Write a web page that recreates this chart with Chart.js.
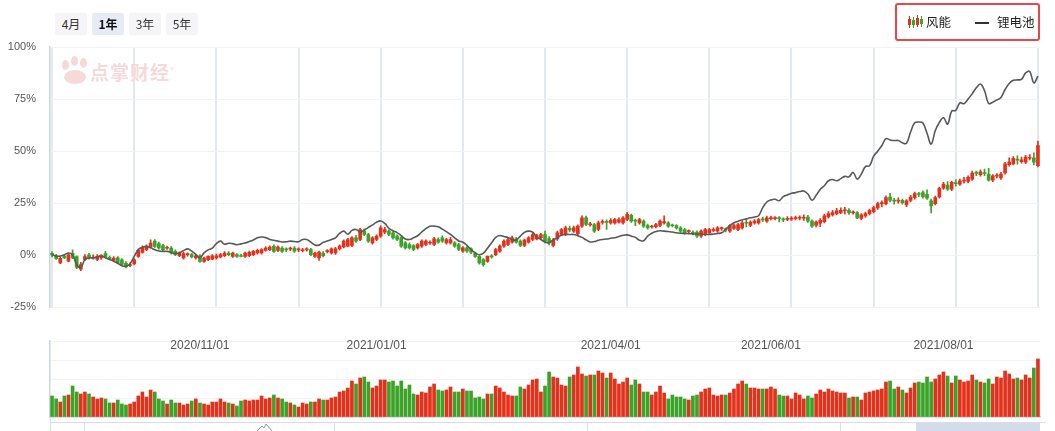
<!DOCTYPE html>
<html>
<head>
<meta charset="utf-8">
<title>风能 / 锂电池</title>
<script src="https://cdn.jsdelivr.net/npm/chart.js@4.4.1/dist/chart.umd.min.js"></script>
<style>
  body { margin: 0; background: #fff; font-family: "Noto Sans CJK SC", "Liberation Sans", sans-serif; }
  #wrap { position: relative; width: 1055px; height: 431px; overflow: hidden; }
  canvas { position: absolute; left: 0; }
  #main { top: 0; }
  #vol { top: 330px; }
  .btn { position: absolute; top: 13px; width: 32px; height: 22px; line-height: 22px; text-align: center; font-size: 12px; color: #333; background: #f5f5f7; border-radius: 2px; }
  .btn.on { background: #e6ebf5; font-weight: bold; color: #111; }
  #legendBox { position: absolute; left: 895px; top: 3px; width: 141px; height: 34px; border: 2.5px solid #e8464b; border-radius: 3px; }
  .lg { position: absolute; top: 13px; font-size: 12.5px; color: #222; line-height: 18px; }
  .mini { position: absolute; }
  .nav { position: absolute; background: #dedede; }
  #mark { position: absolute; left: 90px; top: 58px; font-size: 19px; font-weight: bold; color: #f6d9d9; letter-spacing: 1px; }
  .paw { position: absolute; background: #f6d9d9; border-radius: 50%; }
</style>
</head>
<body>
<div id="wrap">
  <canvas id="main" width="1055" height="328"></canvas>
  <canvas id="vol" width="1055" height="101"></canvas>

  <div class="btn" style="left:55px">4月</div>
  <div class="btn on" style="left:92px">1年</div>
  <div class="btn" style="left:129px">3年</div>
  <div class="btn" style="left:166px">5年</div>

  <!-- watermark -->
  <div class="paw" style="left:62px;top:60px;width:7px;height:10px"></div>
  <div class="paw" style="left:71px;top:56px;width:7px;height:10px"></div>
  <div class="paw" style="left:80px;top:58px;width:7px;height:10px"></div>
  <div class="paw" style="left:64px;top:70px;width:22px;height:14px"></div>
  <div id="mark">点掌财经<sup style="font-size:8px;font-weight:normal">®</sup></div>

  <!-- legend -->
  <div id="legendBox"></div>
  <div class="mini" style="left:909px;top:16px;width:1px;height:12px;background:#e3321c"></div>
  <div class="mini" style="left:908px;top:19px;width:3px;height:6px;background:#e3321c"></div>
  <div class="mini" style="left:913px;top:17px;width:1px;height:11px;background:#3ba328"></div>
  <div class="mini" style="left:912px;top:20px;width:3px;height:5px;background:#3ba328"></div>
  <div class="mini" style="left:917px;top:15px;width:1px;height:12px;background:#e3321c"></div>
  <div class="mini" style="left:916px;top:18px;width:3px;height:7px;background:#e3321c"></div>
  <div class="mini" style="left:921px;top:16px;width:1px;height:11px;background:#3ba328"></div>
  <div class="mini" style="left:920px;top:19px;width:3px;height:5px;background:#3ba328"></div>
  <div class="lg" style="left:926px">风能</div>
  <div class="mini" style="left:975px;top:22px;width:14px;height:2px;background:#333"></div>
  <div class="lg" style="left:997px">锂电池</div>

  <!-- navigator strip -->
  <div class="nav" style="left:50px;top:422px;width:995px;height:1px"></div>
  <div class="nav" style="left:50px;top:417px;width:1px;height:14px"></div>
  <div class="nav" style="left:84px;top:422px;width:1px;height:9px"></div>
  <div class="nav" style="left:334px;top:422px;width:1px;height:9px"></div>
  <div class="nav" style="left:587px;top:422px;width:1px;height:9px"></div>
  <div class="nav" style="left:840px;top:422px;width:1px;height:9px"></div>
  <div class="nav" style="left:916px;top:423px;width:124px;height:8px;background:#d3dcec"></div>
  <svg style="position:absolute;left:0;top:0" width="1055" height="431">
    <polyline points="257,431 262,426 264,428 266,424 272,431" fill="none" stroke="#8096bd" stroke-width="1"/>
  </svg>
</div>

<script>
// 风能 candles (percent change), one entry per trading day
const candleOpen = [
  1.0, -0.2, -3.6, -0.4, -2.8, 1.0, -0.6, -6.6, -2.0, 0.2,
  -1.2, -2.0, -1.2, 0.8, -1.0, -2.4, -1.2, -2.2, -3.8, -4.6,
  -4.0, -0.5, 1.4, 2.7, 4.0, 6.8, 5.6, 4.7, 3.4, 3.5,
  1.9, -0.2, -1.3, 0.3, 0.3, -1.3, -0.2, -2.9, -2.1, -1.8,
  -1.3, -0.8, -0.2, 1.1, -0.5, 0.3, -0.1, -0.5, -0.2, 0.3,
  1.1, 1.1, 2.4, 2.7, 4.3, 2.4, 3.5, 2.8, 3.0, 3.5,
  2.6, 2.2, 2.6, 2.8, -0.5, -1.3, 1.1, 1.8, 1.1, 1.1,
  3.1, 4.0, 4.4, 4.7, 8.4, 7.6, 11.6, 10.0, 6.0, 7.6,
  9.2, 11.1, 11.6, 10.8, 9.2, 8.4, 6.0, 5.2, 4.7, 3.6,
  4.4, 5.2, 5.8, 5.2, 7.6, 8.4, 6.0, 6.0, 6.0, 5.2,
  2.0, 3.6, 3.1, 1.1, -0.5, -2.1, -2.9, -0.3, 0.3, 2.0,
  4.4, 5.2, 6.3, 7.9, 6.8, 4.7, 6.3, 7.6, 7.9, 8.4,
  10.0, 8.0, 4.8, 7.9, 10.0, 10.0, 13.0, 11.6, 10.4, 14.0,
  18.0, 14.6, 14.8, 12.4, 15.8, 16.2, 15.6, 15.6, 15.9, 15.6,
  17.2, 19.2, 16.6, 15.6, 16.4, 14.3, 13.6, 13.7, 14.3, 15.6,
  15.6, 14.4, 14.3, 13.2, 12.4, 11.4, 11.0, 11.1, 9.2, 10.0,
  10.8, 12.0, 11.6, 12.8, 12.6, 11.6, 12.9, 12.4, 13.2, 15.8,
  14.3, 15.6, 15.6, 17.4, 16.4, 17.6, 17.6, 17.8, 17.4, 17.2,
  17.4, 17.6, 17.8, 17.8, 18.4, 16.4, 14.5, 15.4, 16.2, 18.4,
  19.4, 20.0, 20.5, 21.4, 21.6, 20.4, 20.5, 17.7, 18.9, 20.0,
  21.0, 22.8, 24.8, 24.8, 28.0, 26.2, 26.0, 26.4, 24.2, 26.4,
  27.7, 29.6, 30.1, 29.3, 26.1, 24.8, 28.0, 32.2, 33.7, 31.7,
  34.6, 34.2, 35.6, 35.5, 36.6, 39.6, 38.7, 39.4, 39.0, 36.1,
  38.0, 37.1, 39.5, 43.5, 43.9, 45.9, 45.0, 44.7, 46.6, 46.8, 43.0
];
const candleClose = [
  0.0, -1.6, -1.4, -1.2, 0.2, -1.2, -5.8, -4.4, -0.6, -1.2,
  -1.0, -0.6, -0.2, -0.7, -1.3, -1.3, -3.6, -4.4, -5.6, -4.4,
  -2.2, 2.4, 4.0, 4.3, 5.9, 4.3, 3.5, 2.7, 3.6, 1.1,
  0.3, 1.1, 0.8, 0.4, -0.8, -0.2, -2.9, -1.3, -0.5, -0.2,
  -0.2, 0.3, 1.1, 0.3, 1.1, -0.5, -0.2, 1.1, 1.4, 1.9,
  2.4, 2.7, 3.5, 4.0, 1.9, 4.0, 1.9, 2.6, 3.2, 2.0,
  2.8, 2.6, 2.9, 0.3, 1.1, 1.5, -0.2, 2.0, 3.1, 3.1,
  4.4, 6.8, 7.6, 8.4, 6.8, 12.4, 10.0, 6.8, 8.4, 9.2,
  13.2, 12.4, 10.0, 8.4, 7.6, 4.4, 3.6, 3.6, 2.8, 5.2,
  6.8, 6.8, 6.1, 7.9, 6.3, 6.8, 7.6, 7.6, 4.4, 2.8,
  3.6, 2.0, 1.5, -0.5, -3.7, -4.5, -0.5, -0.6, 2.8, 4.4,
  6.8, 7.6, 8.4, 6.3, 4.7, 7.3, 8.4, 10.0, 9.5, 10.0,
  6.8, 6.0, 7.2, 10.8, 12.4, 13.2, 12.2, 13.2, 14.0, 18.0,
  14.8, 15.0, 11.6, 15.6, 16.0, 15.8, 16.8, 17.2, 17.2, 18.0,
  19.7, 16.4, 16.4, 17.2, 14.0, 13.2, 13.7, 14.8, 16.4, 16.2,
  14.0, 14.2, 13.2, 11.6, 10.8, 11.6, 10.6, 9.2, 11.6, 12.4,
  12.4, 12.4, 13.2, 12.9, 12.2, 14.3, 14.3, 14.8, 15.6, 15.4,
  15.9, 16.4, 17.2, 17.0, 18.0, 18.0, 17.8, 17.6, 17.0, 17.8,
  17.8, 18.0, 18.1, 18.2, 16.4, 14.0, 15.9, 16.8, 18.9, 20.0,
  20.5, 21.3, 21.6, 21.6, 20.5, 20.6, 18.0, 19.4, 20.0, 21.6,
  22.9, 24.8, 25.3, 27.7, 26.4, 26.0, 26.4, 25.3, 26.1, 28.0,
  29.6, 29.2, 28.0, 27.4, 23.7, 27.7, 32.2, 34.2, 31.7, 35.0,
  34.4, 35.8, 35.9, 37.4, 39.5, 39.3, 40.1, 39.2, 36.1, 38.2,
  38.3, 39.0, 43.9, 44.7, 46.6, 45.7, 45.8, 47.1, 46.9, 44.7, 52.7
];
const candleHigh = [
  1.8, 0.5, -1.0, 0.2, 0.8, 2.6, 0.0, -3.4, 0.4, 1.0,
  0.2, 0.4, 0.4, 1.9, -0.4, -0.6, -0.6, -1.6, -3.0, -3.6,
  -1.6, 3.0, 4.6, 5.0, 7.4, 7.6, 6.4, 5.4, 4.4, 4.2,
  2.6, 1.6, 1.4, 1.2, 1.0, 0.4, 0.3, -0.8, 0.0, 0.4,
  0.6, 1.0, 1.8, 1.8, 1.6, 0.8, 0.6, 1.6, 2.0, 2.4,
  3.0, 3.2, 4.2, 4.6, 5.0, 4.6, 4.2, 3.6, 4.0, 4.2,
  3.6, 3.4, 3.6, 3.4, 1.6, 2.0, 1.8, 2.8, 3.6, 3.8,
  5.0, 7.4, 8.2, 9.0, 9.6, 13.0, 12.6, 10.6, 9.0, 9.8,
  14.2, 13.4, 12.4, 11.4, 9.8, 9.0, 6.6, 6.0, 5.2, 5.8,
  7.4, 7.4, 7.0, 8.6, 8.4, 9.4, 8.2, 8.6, 6.6, 5.8,
  4.2, 4.2, 3.6, 1.6, 0.0, -1.6, 0.0, 0.4, 3.4, 5.0,
  7.4, 8.2, 9.2, 8.6, 7.4, 7.8, 9.0, 10.6, 10.2, 10.6,
  11.6, 9.0, 8.2, 11.6, 13.0, 14.0, 14.0, 14.0, 14.6, 19.0,
  18.8, 15.8, 15.4, 16.4, 17.0, 17.0, 17.6, 17.8, 18.0, 18.6,
  20.6, 19.8, 17.4, 17.8, 17.0, 15.0, 14.4, 15.4, 17.0, 18.9,
  16.2, 15.0, 14.8, 13.8, 13.0, 12.2, 11.8, 11.8, 12.2, 13.0,
  13.0, 13.2, 13.8, 13.6, 13.2, 14.8, 15.0, 15.4, 16.4, 17.2,
  16.6, 17.2, 17.8, 18.4, 18.8, 18.8, 18.6, 18.6, 18.0, 18.6,
  18.6, 18.8, 19.0, 19.4, 19.2, 17.0, 16.6, 17.6, 19.8, 21.0,
  21.6, 22.6, 22.8, 23.0, 22.4, 21.4, 21.0, 20.0, 20.8, 22.2,
  23.6, 25.6, 26.2, 28.6, 29.8, 27.4, 27.6, 27.0, 26.8, 28.8,
  30.4, 30.2, 31.0, 31.4, 27.0, 28.4, 32.8, 35.0, 35.4, 35.6,
  36.4, 36.6, 37.4, 38.2, 40.4, 40.4, 41.0, 41.4, 41.8, 38.8,
  39.2, 39.8, 44.6, 46.8, 47.4, 47.8, 47.2, 48.0, 48.4, 49.2, 54.8
];
const candleLow = [
  -0.8, -2.0, -4.0, -1.6, -3.2, -1.6, -6.4, -7.4, -2.6, -1.8,
  -1.8, -2.6, -2.0, -1.2, -2.0, -2.8, -4.0, -5.0, -6.0, -5.4,
  -4.6, -1.0, 1.0, 2.2, 3.6, 3.8, 3.0, 2.2, 2.8, 0.6,
  -0.2, -0.6, -1.8, -0.4, -1.2, -1.8, -3.4, -3.4, -2.6, -2.2,
  -1.8, -1.2, -0.6, -0.2, -1.0, -1.0, -0.8, -1.0, -0.6, -0.2,
  0.6, 0.6, 2.0, 2.2, 1.4, 1.8, 1.4, 1.8, 2.2, 1.4,
  1.8, 1.6, 2.0, -0.2, -1.0, -2.4, -0.8, 1.2, 0.6, 0.4,
  2.6, 3.6, 4.0, 4.2, 6.2, 7.0, 9.4, 6.2, 5.4, 7.0,
  8.6, 10.4, 9.4, 7.8, 7.0, 3.8, 3.0, 3.0, 2.2, 3.0,
  3.8, 4.6, 5.2, 4.6, 5.8, 6.2, 5.4, 5.4, 3.8, 2.2,
  1.4, 1.4, 0.8, -1.0, -4.2, -5.2, -3.4, -1.4, -0.2, 1.4,
  3.8, 4.6, 5.8, 5.8, 4.2, 4.2, 5.8, 7.0, 7.4, 7.8,
  6.0, 5.0, 4.0, 7.2, 9.4, 9.4, 11.4, 11.0, 9.8, 13.4,
  14.2, 14.0, 11.0, 11.8, 15.0, 12.4, 15.0, 15.0, 15.4, 15.0,
  16.6, 15.8, 14.2, 15.0, 13.4, 12.6, 13.0, 13.2, 13.8, 15.0,
  13.4, 13.6, 12.6, 11.0, 10.2, 10.8, 9.8, 8.6, 8.6, 9.4,
  10.2, 11.4, 11.0, 12.0, 11.2, 11.0, 12.4, 11.8, 12.6, 13.6,
  13.8, 15.0, 15.0, 16.2, 15.8, 17.0, 17.0, 16.0, 16.2, 16.6,
  16.8, 17.0, 17.0, 16.8, 15.8, 13.4, 13.6, 13.8, 15.6, 17.8,
  18.8, 19.4, 20.0, 19.8, 19.6, 19.8, 17.6, 17.0, 18.2, 19.4,
  20.4, 22.0, 23.2, 24.2, 25.6, 24.6, 25.0, 24.6, 23.4, 25.6,
  27.0, 28.2, 27.4, 26.8, 20.4, 24.2, 27.4, 31.6, 31.2, 31.0,
  33.2, 33.6, 34.6, 34.8, 36.0, 38.2, 38.0, 38.2, 35.6, 35.4,
  37.2, 36.4, 39.0, 42.8, 43.4, 43.8, 44.2, 44.0, 45.8, 43.4, 42.4
];

// 锂电池 line (percent change)
const lithium = [
  0.3, -0.3, -0.4, 0.3, 1.1, 0.3, -4.5, -5.8, -2.0, -1.3,
  -1.1, -0.8, -0.2, -1.2, -2.0, -2.8, -3.8, -5.0, -5.2, -4.0,
  -0.5, 2.8, 3.8, 4.3, 3.6, 2.7, 2.1, 1.9, 1.9, 1.4,
  0.8, 1.3, 2.2, 3.1, 2.0, 0.4, -1.2, 1.2, 2.6, 3.4,
  5.6, 6.8, 5.3, 5.8, 5.6, 5.1, 5.5, 5.9, 6.6, 7.4,
  8.4, 8.8, 8.5, 7.6, 7.2, 6.8, 6.4, 6.5, 6.8, 6.6,
  6.5, 7.6, 7.6, 6.3, 5.0, 4.9, 6.2, 6.9, 7.6, 8.4,
  10.5, 11.6, 10.1, 12.0, 12.4, 11.2, 12.2, 13.4, 14.6, 15.9,
  16.5, 15.3, 13.0, 11.8, 10.9, 9.4, 7.8, 7.6, 8.4, 9.4,
  11.2, 12.8, 14.0, 14.0, 13.7, 12.6, 11.4, 10.0, 8.4, 6.9,
  6.3, 4.8, 2.8, 1.2, 0.3, 1.0, 3.4, 6.0, 8.6, 9.5,
  9.0, 8.6, 7.6, 7.3, 9.2, 11.0, 11.6, 11.1, 8.8, 7.6,
  6.4, 6.0, 7.4, 8.4, 9.6, 10.0, 10.0, 10.0, 9.4, 8.6,
  7.4, 6.4, 6.6, 7.2, 7.6, 7.8, 8.2, 8.4, 9.0, 9.6,
  9.8, 9.2, 8.6, 7.2, 7.0, 9.2, 10.6, 11.4, 11.8, 11.6,
  11.4, 11.2, 10.8, 10.6, 10.5, 10.4, 10.3, 10.2, 10.2, 10.0,
  10.0, 10.2, 10.5, 10.8, 12.5, 14.2, 15.6, 16.4, 17.0, 17.5,
  18.0, 18.4, 19.0, 22.9, 25.6, 26.6, 26.9, 26.2, 28.2, 29.0,
  29.8, 30.1, 30.6, 30.9, 29.4, 26.4, 28.8, 31.6, 33.4, 35.8,
  36.4, 35.8, 36.8, 37.9, 37.7, 39.8, 36.6, 39.0, 42.6, 43.0,
  47.6, 50.0, 52.7, 56.0, 55.4, 55.1, 55.1, 54.0, 53.8, 59.2,
  63.6, 64.0, 63.5, 58.6, 53.4, 59.8, 63.8, 66.0, 63.0, 69.2,
  69.6, 73.2, 72.8, 75.0, 77.6, 80.4, 82.2, 79.0, 72.9, 73.5,
  74.6, 75.8, 79.6, 82.5, 84.0, 84.2, 84.5, 87.6, 88.2, 82.8, 86.0
];

// traded volume (relative units)
const volume = [
  21, 18, 15, 21, 22, 31, 25, 23, 25, 23,
  20, 18, 19, 18, 14, 14, 17, 13, 12, 13,
  15, 21, 25, 20, 27, 25, 18, 16, 13, 17,
  14, 14, 12, 13, 16, 18, 14, 13, 12,
  15, 15, 18, 15, 14, 13, 11, 16, 17, 16,
  17, 17, 21, 18, 19, 22, 19, 18, 15, 14,
  12, 10, 14, 13, 15, 15, 18, 17, 17,
  19, 20, 25, 26, 29, 36, 33, 39, 40, 35,
  29, 31, 37, 37, 35, 36, 31, 36, 28, 32,
  23, 22, 25, 24, 30, 33,
  27, 26, 27, 30, 25, 25, 28, 26, 26, 19,
  20, 18, 23, 23, 31, 29, 25, 22, 21, 21,
  30, 28, 32, 37, 38, 25, 31, 45, 40, 39,
  32, 31, 40, 42, 50, 43, 41, 42, 42, 46, 44,
  39, 44, 38, 33, 35, 39, 32, 37, 33, 25,
  25, 22, 25, 31, 24, 18, 22, 20, 20, 18,
  17, 21, 22, 25, 28, 29, 22, 21, 22, 22,
  24, 28, 33, 36, 33, 29, 29, 28, 28, 28,
  30, 28, 22, 21, 21, 18, 24, 22, 18, 21,
  19, 23, 27, 25, 28, 26, 25, 24, 24, 19,
  20, 20, 17, 24, 25, 26, 27, 28, 35, 36,
  28, 30, 27, 24, 29, 34, 35, 34, 40, 35, 38,
  42, 45, 41, 34, 41, 37, 35, 36, 42, 37,
  35, 34, 38, 33, 40, 39, 46, 43, 38, 39,
  37, 42, 39, 49, 58
];

// y axis tick values and date ticks on the volume panel
const yTicks = [-25, 0, 25, 50, 75, 100];
const dateTicks = ['2020/11/01', '2021/01/01', '2021/04/01', '2021/06/01', '2021/08/01'];
const dateTickIdx = [36, 79, 136, 175, 217];

const RED = '#e3321c';
const GREEN = '#3ba328';

Chart.defaults.font.family = '"Liberation Sans", "Noto Sans CJK SC", sans-serif';
Chart.defaults.font.size = 11;
Chart.defaults.color = '#555';

let labels = candleClose.map((c, i) => i);
let upColor = (i) => (candleClose[i] >= candleOpen[i] ? RED : GREEN);

// Main chart: candles + line
new Chart(document.getElementById('main'), {
  type: 'bar',
  data: {
    labels: labels,
    datasets: [
      {
        type: 'line',
        label: '锂电池',
        data: lithium,
        borderColor: '#585858',
        borderWidth: 1.6,
        pointRadius: 0,
        tension: 0.4,
        order: 0,
      },
      {
        label: '风能',
        data: candleOpen.map((o, i) => [o, candleClose[i]]),
        backgroundColor: (ctx) => upColor(ctx.dataIndex),
        barThickness: 3,
        minBarLength: 1,
        grouped: false,
        order: 1,
      },
      {
        label: '风能 wick',
        data: candleLow.map((l, i) => [l, candleHigh[i]]),
        backgroundColor: (ctx) => upColor(ctx.dataIndex),
        barThickness: 1,
        grouped: false,
        order: 2,
      },
    ],
  },
  options: {
    responsive: false,
    animation: false,
    devicePixelRatio: 1,
    layout: { padding: { top: 47, right: 15, bottom: 6, left: 0 } },
    plugins: { legend: { display: false }, tooltip: { enabled: false } },
    scales: {
      x: {
        offset: true,
        grid: { color: '#e4e9f0', lineWidth: 2, drawTicks: false, offset: false },
        border: { display: false },
        ticks: { display: false, autoSkip: false },
        afterBuildTicks: (s) => { s.ticks = s.ticks.filter((t) => t.value % 20 === 0); },
        afterFit: (s) => { s.height = 0; },
      },
      y: {
        min: yTicks[0],
        max: yTicks[yTicks.length - 1],
        afterBuildTicks: (s) => { s.ticks = yTicks.map((v) => ({ value: v })); },
        ticks: { callback: (v) => v + '%', padding: 14, color: '#555' },
        grid: { color: '#f1f2f4', drawTicks: false },
        border: { color: '#c8d2e2', width: 1.5 },
        afterFit: (s) => { s.width = 50; },
      },
    },
  },
});

// date labels drawn inside the volume panel
const dateLabelPlugin = {
  id: 'dateLabels',
  afterDatasetsDraw(chart) {
    const ctx = chart.ctx;
    const x = chart.scales.x;
    ctx.save();
    ctx.font = '12px "Liberation Sans", sans-serif';
    ctx.fillStyle = '#555';
    ctx.textAlign = 'center';
    ctx.textBaseline = 'middle';
    dateTickIdx.forEach((idx, k) => {
      ctx.fillText(dateTicks[k], x.getPixelForValue(idx), 15.5);
    });
    ctx.restore();
  },
};

// Volume chart
new Chart(document.getElementById('vol'), {
  type: 'bar',
  data: {
    labels: labels,
    datasets: [
      {
        data: volume,
        backgroundColor: (ctx) => upColor(ctx.dataIndex),
        barThickness: 3,
      },
    ],
  },
  options: {
    responsive: false,
    animation: false,
    devicePixelRatio: 1,
    layout: { padding: { top: 11, right: 15, bottom: 14, left: 0 } },
    plugins: { legend: { display: false }, tooltip: { enabled: false } },
    scales: {
      x: {
        grid: { display: false, drawTicks: false },
        border: { color: '#d0d0d0', width: 1.5 },
        ticks: { display: false },
        afterFit: (s) => { s.height = 0; },
      },
      y: {
        min: 0,
        max: 76,
        ticks: { display: false, stepSize: 19 },
        grid: { color: '#f2f3f5', drawTicks: false },
        border: { color: '#cdd6e4', width: 1.5 },
        afterFit: (s) => { s.width = 50; },
      },
    },
  },
  plugins: [dateLabelPlugin],
});
</script>
</body>
</html>
